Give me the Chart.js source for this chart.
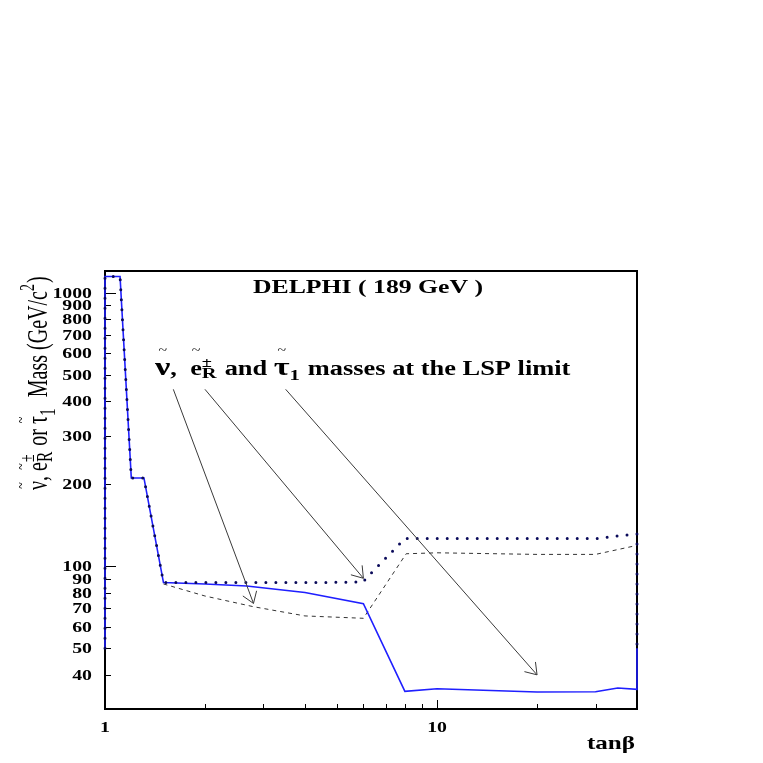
<!DOCTYPE html>
<html>
<head>
<meta charset="utf-8">
<script src="https://cdn.jsdelivr.net/npm/chart.js@4.4.1/dist/chart.umd.min.js"></script>
<style>
  html, body { margin: 0; padding: 0; background: #fff; }
</style>
</head>
<body>
<canvas id="chart" width="763" height="763"></canvas>
<script>
// masses (GeV/c^2) vs tan(beta)
const stauTanb = [1, 1, 1.11, 1.2, 1.31, 1.5, 2, 2.67, 4, 6, 8, 10, 20, 30, 35, 40, 40];
const stauMass = [50, 1145, 1145, 210, 210, 87, 86, 84.5, 80, 72.8, 34.8, 35.6, 34.6, 34.7, 35.8, 35.4, 50];

const selTanb = [1, 1, 1.11, 1.2, 1.31, 1.5, 2, 3, 4, 6, 6.1, 8, 10, 20, 30, 35, 40, 40];
const selMass = [50, 1145, 1145, 210, 210, 87, 87, 87, 87, 87.4, 90, 126, 126, 126, 126, 129, 131, 50];

const snuTanb = [1.5, 2, 2.8, 4, 6, 8.07, 10, 20, 30, 40];
const snuMass = [86, 77.7, 71, 65.7, 64.4, 110.9, 111.8, 110.3, 110.3, 119];

// arrows from the label to each curve (data coordinates)
const arrowFromTanb = [1.606, 2.0, 3.5];
const arrowFromMass = [443, 443, 443];
const arrowToTanb = [2.8, 6.0, 20];
const arrowToMass = [73, 90.2, 40];

const xTicks = [1, 2, 3, 4, 5, 6, 7, 8, 9, 10, 20, 30];
const xLabels = [1, 10];
const yTicks = [40, 50, 60, 70, 80, 90, 100, 200, 300, 400, 500, 600, 700, 800, 900, 1000];
const yMajor = [100, 1000];

const SERIF = '"Liberation Serif", "DejaVu Serif", serif';
function font(size, weight) { return weight + ' ' + size + 'px ' + SERIF; }

function toPoints(xs, ys) { return xs.map((x, i) => ({ x: x, y: ys[i] })); }

// rich text: parts with tilde accents, sub/superscripts, stretched horizontally by sx
function partWidth(ctx, p, size, weight) {
    if (p.t) { ctx.font = font(size * (p.k || 1), weight); return ctx.measureText(p.t).width; }
    let w = 0;
    if (p.sup) { ctx.font = font(size * 0.7, weight); w = Math.max(w, ctx.measureText(p.sup).width); }
    if (p.sub) { ctx.font = font(size * 0.78, weight); w = Math.max(w, ctx.measureText(p.sub).width); }
    return w + 1;
}

function drawRich(ctx, parts, o) {
    ctx.save();
    ctx.translate(o.x, o.y);
    ctx.scale(o.sx || 1, 1);
    if (o.rotate) ctx.rotate(-Math.PI / 2);
    ctx.fillStyle = '#000';
    ctx.textBaseline = 'alphabetic';
    ctx.textAlign = 'left';
    const widths = parts.map(p => partWidth(ctx, p, o.size, o.weight));
    const total = widths.reduce((a, b) => a + b, 0);
    let cx = o.align === 'center' ? -total / 2 : o.align === 'right' ? -total : 0;
    parts.forEach((p, i) => {
        const w = widths[i];
        if (p.t) {
            ctx.font = font(o.size * (p.k || 1), o.weight);
            ctx.fillText(p.t, cx, 0);
            if (p.tilde) {
                const fs = o.size * 0.6;
                ctx.font = font(fs, 'normal');
                ctx.textAlign = 'center';
                ctx.fillText('~', cx + w / 2, -o.size * (o.tildeUp || 1.3) + fs * 0.3);
                ctx.textAlign = 'left';
            }
        } else {
            const both = p.sup && p.sub;
            if (p.sup) {
                ctx.font = font(o.size * 0.7, o.weight);
                ctx.fillText(p.sup, cx, -o.size * 0.42);
            }
            if (p.sub) {
                ctx.font = font(o.size * 0.78, o.weight);
                ctx.fillText(p.sub, cx, o.size * (both ? 0.15 : 0.25));
            }
        }
        cx += w;
    });
    ctx.restore();
}

const labelParts = [
    { t: 'ν', tilde: true, k: 1.3 }, { t: ',  ' }, { t: 'e', tilde: true }, { sup: '±', sub: 'R' },
    { t: ' and ' }, { t: 'τ', tilde: true, k: 1.3 }, { sub: '1' }, { t: ' masses at the LSP limit' }
];
const yTitleParts = [
    { t: 'ν', tilde: true }, { t: ', ' }, { t: 'e', tilde: true }, { sup: '±', sub: 'R' },
    { t: ' or ' }, { t: 'τ', tilde: true }, { sub: '1' }, { t: '  Mass (GeV/c' }, { sup: '2' }, { t: ')' }
];

const decorations = {
    id: 'decorations',
    beforeDatasetsDraw(chart) {
        const { ctx, chartArea: a, scales: { x, y } } = chart;
        ctx.save();
        ctx.strokeStyle = '#000';
        ctx.lineWidth = 2;
        ctx.strokeRect(a.left, a.top, a.right - a.left, a.bottom - a.top);
        ctx.lineWidth = 1;
        ctx.beginPath();
        yTicks.forEach(v => {
            const py = Math.round(y.getPixelForValue(v)) + 0.5;
            const len = yMajor.includes(v) ? 11 : 6;
            ctx.moveTo(a.left, py);
            ctx.lineTo(a.left + len, py);
        });
        xTicks.forEach(v => {
            const px = Math.round(x.getPixelForValue(v)) + 0.5;
            const len = v === 10 ? 9 : 5;
            ctx.moveTo(px, a.bottom);
            ctx.lineTo(px, a.bottom - len);
        });
        ctx.stroke();
        ctx.restore();
    },
    afterDatasetsDraw(chart) {
        const { ctx, scales: { x, y } } = chart;
        ctx.save();
        ctx.strokeStyle = '#3a3a3a';
        ctx.lineWidth = 1;
        arrowFromTanb.forEach((t, i) => {
            const x0 = x.getPixelForValue(t), y0 = y.getPixelForValue(arrowFromMass[i]);
            const x1 = x.getPixelForValue(arrowToTanb[i]), y1 = y.getPixelForValue(arrowToMass[i]);
            const ang = Math.atan2(y1 - y0, x1 - x0);
            const head = 13, spread = 0.6;
            ctx.beginPath();
            ctx.moveTo(x0, y0);
            ctx.lineTo(x1, y1);
            ctx.moveTo(x1 - head * Math.cos(ang - spread), y1 - head * Math.sin(ang - spread));
            ctx.lineTo(x1, y1);
            ctx.lineTo(x1 - head * Math.cos(ang + spread), y1 - head * Math.sin(ang + spread));
            ctx.stroke();
        });
        ctx.restore();
    },
    afterDraw(chart) {
        const { ctx, chartArea: a, scales: { x, y } } = chart;
        const sx = 1.32;
        yTicks.forEach(v => {
            drawRich(ctx, [{ t: String(v) }], {
                x: a.left - 13, y: y.getPixelForValue(v) + 5, size: 15, weight: 'bold', sx: sx, align: 'right'
            });
        });
        xLabels.forEach(v => {
            drawRich(ctx, [{ t: String(v) }], {
                x: x.getPixelForValue(v), y: a.bottom + 23, size: 15, weight: 'bold', sx: sx, align: 'center'
            });
        });
        drawRich(ctx, [{ t: 'tanβ' }], { x: a.right - 2, y: a.bottom + 40, size: 19, weight: 'bold', sx: sx, align: 'right' });
        drawRich(ctx, [{ t: 'DELPHI ( 189 GeV )' }], {
            x: (a.left + a.right) / 2 - 3, y: a.top + 22, size: 19.5, weight: 'bold', sx: sx, align: 'center'
        });
        drawRich(ctx, labelParts, { x: 155, y: a.top + 104, size: 20, weight: 'bold', sx: 1.32, align: 'left', tildeUp: 1.25 });
        drawRich(ctx, yTitleParts, { x: 47, y: 490, size: 20, weight: 'normal', sx: 1.5, rotate: true, align: 'left', tildeUp: 0.85 });
    }
};

new Chart(document.getElementById('chart'), {
    type: 'line',
    data: {
        datasets: [{
            label: 'selectron',
            data: toPoints(selTanb, selMass),
            borderColor: '#0a0a5a',
            borderWidth: 3,
            borderDash: [0, 10],
            borderCapStyle: 'round',
            clip: false,
            order: 0
        }, {
            label: 'stau',
            data: toPoints(stauTanb, stauMass),
            borderColor: '#1f1fff',
            borderWidth: 1.6,
            clip: false,
            order: 1
        }, {
            label: 'sneutrino',
            data: toPoints(snuTanb, snuMass),
            borderColor: '#333333',
            borderWidth: 1,
            borderDash: [4, 4],
            clip: false,
            order: 2
        }]
    },
    options: {
        responsive: false,
        animation: false,
        events: [],
        layout: { padding: { left: 0, top: 271, right: 126, bottom: 0 } },
        elements: { point: { radius: 0 }, line: { tension: 0, fill: false } },
        plugins: { legend: { display: false }, tooltip: { enabled: false } },
        scales: {
            x: {
                type: 'logarithmic', min: 1, max: 40,
                ticks: { display: false }, grid: { display: false }, border: { display: false },
                afterFit(s) { s.height = 54; }
            },
            y: {
                type: 'logarithmic', min: 30, max: 1200,
                ticks: { display: false }, grid: { display: false }, border: { display: false },
                afterFit(s) { s.width = 105; }
            }
        }
    },
    plugins: [decorations]
});
</script>
</body>
</html>
